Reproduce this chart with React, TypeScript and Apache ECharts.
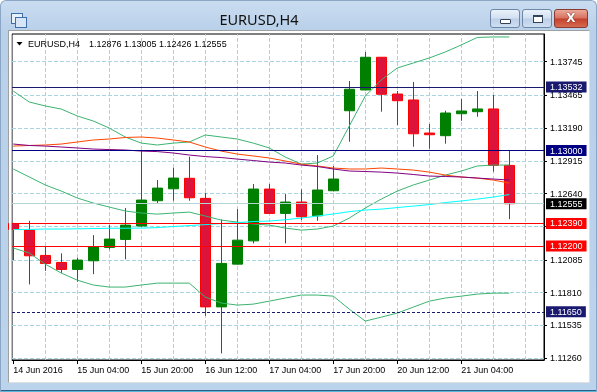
import React, { useEffect, useRef } from 'react';
import * as echarts from 'echarts';

// ---- data ----
const barTimes = ['14 Jun 12:00', '14 Jun 16:00', '14 Jun 20:00', '15 Jun 00:00', '15 Jun 04:00', '15 Jun 08:00', '15 Jun 12:00', '15 Jun 16:00', '15 Jun 20:00', '16 Jun 00:00', '16 Jun 04:00', '16 Jun 08:00', '16 Jun 12:00', '16 Jun 16:00', '16 Jun 20:00', '17 Jun 00:00', '17 Jun 04:00', '17 Jun 08:00', '17 Jun 12:00', '17 Jun 16:00', '17 Jun 20:00', '20 Jun 00:00', '20 Jun 04:00', '20 Jun 08:00', '20 Jun 12:00', '20 Jun 16:00', '20 Jun 20:00', '21 Jun 00:00', '21 Jun 04:00', '21 Jun 08:00', '21 Jun 12:00', '21 Jun 16:00'];

const open = [1.12389, 1.12334, 1.12122, 1.12063, 1.12005, 1.12077, 1.12189, 1.12256, 1.12368, 1.12580, 1.12680, 1.12768, 1.12600, 1.11691, 1.12049, 1.12244, 1.12678, 1.12474, 1.12569, 1.12454, 1.12664, 1.13334, 1.13508, 1.13782, 1.13474, 1.13424, 1.13147, 1.13125, 1.13309, 1.13326, 1.13349, 1.12876];
const high = [1.12395, 1.12412, 1.12194, 1.12139, 1.12102, 1.12292, 1.12376, 1.12519, 1.12999, 1.12753, 1.12856, 1.12949, 1.12647, 1.12424, 1.12510, 1.12720, 1.12720, 1.12636, 1.12675, 1.12963, 1.12871, 1.13583, 1.13826, 1.13782, 1.13499, 1.13575, 1.13223, 1.13334, 1.13432, 1.13499, 1.13466, 1.13005];
const low = [1.12083, 1.11879, 1.11993, 1.11976, 1.11901, 1.11965, 1.12172, 1.12089, 1.12362, 1.12558, 1.12580, 1.12580, 1.11616, 1.11301, 1.12045, 1.12223, 1.12470, 1.12223, 1.12418, 1.12412, 1.12660, 1.13074, 1.13505, 1.13326, 1.13214, 1.13032, 1.13016, 1.13058, 1.13250, 1.13284, 1.12823, 1.12426];
const close = [1.12340, 1.12119, 1.12055, 1.12005, 1.12083, 1.12194, 1.12259, 1.12376, 1.12586, 1.12686, 1.12770, 1.12605, 1.11691, 1.12055, 1.12250, 1.12678, 1.12474, 1.12569, 1.12446, 1.12670, 1.12762, 1.13514, 1.13782, 1.13472, 1.13418, 1.13141, 1.13133, 1.13315, 1.13332, 1.13349, 1.12876, 1.12555];

const bbUpper = [1.13499, 1.13407, 1.13374, 1.13348, 1.13290, 1.13248, 1.13189, 1.13114, 1.13063, 1.13047, 1.13063, 1.13072, 1.13131, 1.13114, 1.13097, 1.13063, 1.13022, 1.12946, 1.12887, 1.12896, 1.12955, 1.13206, 1.13457, 1.13591, 1.13692, 1.13734, 1.13776, 1.13826, 1.13885, 1.13948, 1.13952, 1.13952];
const bbMiddle = [1.12846, 1.12779, 1.12712, 1.12661, 1.12603, 1.12561, 1.12527, 1.12494, 1.12477, 1.12468, 1.12477, 1.12485, 1.12452, 1.12418, 1.12401, 1.12385, 1.12376, 1.12351, 1.12334, 1.12343, 1.12368, 1.12435, 1.12519, 1.12594, 1.12661, 1.12712, 1.12753, 1.12795, 1.12829, 1.12871, 1.12879, 1.12879];
const bbLower = [1.12184, 1.12142, 1.12049, 1.11974, 1.11915, 1.11874, 1.11857, 1.11857, 1.11874, 1.11890, 1.11890, 1.11890, 1.11773, 1.11723, 1.11706, 1.11714, 1.11739, 1.11765, 1.11790, 1.11790, 1.11781, 1.11672, 1.11572, 1.11605, 1.11639, 1.11689, 1.11739, 1.11765, 1.11781, 1.11798, 1.11806, 1.11806];
const maOrange = [1.13038, 1.13043, 1.13047, 1.13055, 1.13072, 1.13089, 1.13097, 1.13110, 1.13114, 1.13105, 1.13089, 1.13072, 1.13030, 1.12996, 1.12971, 1.12955, 1.12938, 1.12913, 1.12887, 1.12871, 1.12854, 1.12846, 1.12846, 1.12854, 1.12846, 1.12837, 1.12820, 1.12795, 1.12779, 1.12770, 1.12753, 1.12728];
const maPurple = [1.13055, 1.13043, 1.13038, 1.13030, 1.13022, 1.13013, 1.13009, 1.13005, 1.12996, 1.12992, 1.12980, 1.12963, 1.12950, 1.12942, 1.12929, 1.12917, 1.12904, 1.12896, 1.12879, 1.12867, 1.12846, 1.12829, 1.12825, 1.12820, 1.12812, 1.12800, 1.12787, 1.12783, 1.12779, 1.12770, 1.12762, 1.12753];
const maCyan = [1.12339, 1.12340, 1.12343, 1.12343, 1.12345, 1.12347, 1.12349, 1.12350, 1.12351, 1.12355, 1.12364, 1.12372, 1.12380, 1.12389, 1.12397, 1.12406, 1.12410, 1.12421, 1.12435, 1.12452, 1.12469, 1.12489, 1.12502, 1.12510, 1.12523, 1.12535, 1.12548, 1.12565, 1.12578, 1.12594, 1.12611, 1.12632];

const yTicks = [1.1126, 1.11535, 1.1181, 1.12085, 1.12365, 1.1264, 1.12915, 1.1319, 1.13465, 1.13745];
const xLabelIdx = [0, 4, 8, 12, 16, 20, 24, 28];
const xLabels = ['14 Jun 2016', '15 Jun 04:00', '15 Jun 20:00', '16 Jun 12:00', '17 Jun 04:00', '17 Jun 20:00', '20 Jun 12:00', '21 Jun 04:00'];
const xGridIdx = [2, 4, 6, 8, 10, 12, 14, 16, 18, 20, 22, 24, 26, 28, 30, 32];

const levels = [1.13532, 1.13, 1.1239, 1.122, 1.1165];
const levelColors = ['#191970', '#000080', '#ff0000', '#ff0000', '#191970'];
const levelDashed = [false, false, false, false, true];
const bid = 1.12555;

const symbolName = 'EURUSD,H4';
const lastOHLC = [1.12876, 1.13005, 1.12426, 1.12555];

const FONT = '"Liberation Sans", Arial, sans-serif';

function lineSeries(name: string, values: number[], color: string, z: number, extra: any = {}) {
  return {
    name,
    type: 'line',
    data: values.map((v, i) => [i, v]),
    symbol: 'none',
    showSymbol: false,
    silent: true,
    clip: true,
    z,
    lineStyle: { color, width: 1 },
    itemStyle: { color },
    ...extra,
  };
}

function buildOption() {
  const levelItems: any[] = levels.map((v, i) => ({
    yAxis: v,
    lineStyle: { color: levelColors[i], width: 1, type: levelDashed[i] ? [3, 2] : 'solid' },
    label: {
      show: true,
      position: 'end',
      distance: 2,
      formatter: v.toFixed(5),
      color: '#ffffff',
      backgroundColor: levelColors[i],
      padding: [1, 4, 0, 4],
      lineHeight: 10,
      fontSize: 9,
      fontFamily: FONT,
    },
  }));
  levelItems.unshift({
    yAxis: bid,
    lineStyle: { color: '#b4d4d4', width: 1, type: 'solid' },
    label: {
      show: true,
      position: 'end',
      distance: 2,
      formatter: bid.toFixed(5),
      color: '#ffffff',
      backgroundColor: '#000000',
      padding: [1, 4, 0, 4],
      lineHeight: 10,
      fontSize: 9,
      fontFamily: FONT,
    },
  });

  const gridItems: any[] = [
    ...yTicks.map((v) => ({ yAxis: v })),
    ...xGridIdx.map((v) => ({ xAxis: v })),
  ];

  return {
    animation: false,
    grid: {
      left: 12, top: 34, width: 532, height: 326,
      show: true, borderColor: '#000', borderWidth: 1, backgroundColor: 'transparent',
      containLabel: false, outerBoundsMode: 'none',
    },
    xAxis: {
      type: 'value', min: -0.08, max: 33.17,
      axisLine: { show: true, onZero: false, lineStyle: { color: '#000', width: 1 } },
      axisTick: { show: true, customValues: xLabelIdx, length: 4, lineStyle: { color: '#000' } },
      axisLabel: {
        customValues: xLabelIdx,
        formatter: (v: number) => xLabels[xLabelIdx.indexOf(Math.round(v))] || '',
        align: 'left', margin: 5, color: '#000', fontSize: 9, fontFamily: FONT,
      },
      splitLine: { show: false },
    },
    yAxis: {
      type: 'value', position: 'right', min: 1.11246, max: 1.139768, scale: true,
      axisLine: { show: true, onZero: false, lineStyle: { color: '#000', width: 1 } },
      axisTick: { show: true, customValues: yTicks, length: 3, lineStyle: { color: '#000' } },
      axisLabel: {
        customValues: yTicks,
        formatter: (v: number) => v.toFixed(5),
        margin: 6, color: '#000', fontSize: 9, fontFamily: FONT,
      },
      splitLine: { show: false },
    },
    graphic: [
      // white margin left of the plot frame (hides the part of the first candle that lies outside)
      { type: 'rect', silent: true, shape: { x: 9, y: 31, width: 2.5, height: 340 }, style: { fill: '#ffffff' }, z: 50 },
      { type: 'polygon', silent: true, shape: { points: [[16.5, 42], [22.5, 42], [19.5, 45.5]] }, style: { fill: '#000' }, z: 10 },
      { type: 'text', silent: true, x: 28, y: 44, style: { text: symbolName, fill: '#000', font: `9px ${FONT}`, verticalAlign: 'middle', align: 'left' }, z: 10 },
      { type: 'text', silent: true, x: 89, y: 44, style: { text: lastOHLC.map((v) => v.toFixed(5)).join(' '), fill: '#000', font: `9px ${FONT}`, verticalAlign: 'middle', align: 'left' }, z: 10 },
    ],
    series: [
      {
        name: 'grid',
        type: 'line',
        data: close.map((v, i) => [i, v]),
        symbol: 'none',
        showSymbol: false,
        silent: true,
        z: 1,
        lineStyle: { opacity: 0, width: 0 },
        itemStyle: { opacity: 0 },
        markLine: {
          silent: true, z: 1, precision: 5, symbol: ['none', 'none'],
          label: { show: false },
          lineStyle: { color: '#a9d5e0', width: 1, type: 'dashed', dashOffset: 0 },
          data: gridItems,
        },
      },
      {
        name: 'EURUSD',
        type: 'candlestick',
        data: open.map((o, i) => [i, o, close[i], low[i], high[i]]),
        encode: { x: 0, y: [1, 2, 3, 4] },
        barWidth: 10,
        clip: true,
        z: 2,
        silent: true,
        itemStyle: { color: '#008000', color0: '#dc143c', borderColor: '#008000', borderColor0: '#ff0000', borderWidth: 1 },
      },
      lineSeries('BB upper', bbUpper, '#3cb371', 3),
      lineSeries('BB middle', bbMiddle, '#3cb371', 3),
      lineSeries('BB lower', bbLower, '#3cb371', 3),
      lineSeries('MA orange', maOrange, '#ff4500', 3),
      lineSeries('MA purple', maPurple, '#800080', 3),
      lineSeries('MA cyan', maCyan, '#00ffff', 3, {
        markLine: {
          silent: true, z: 5, precision: 5, symbol: ['none', 'none'],
          data: levelItems,
        },
      }),
    ],
  };
}

export default function App() {
  const ref = useRef<HTMLDivElement>(null);
  useEffect(() => {
    if (!ref.current) return;
    const chart = echarts.init(ref.current, null, { renderer: 'svg' });
    chart.setOption(buildOption() as any);
    return () => chart.dispose();
  }, []);

  const btnBase: React.CSSProperties = {
    position: 'absolute', top: 8, height: 19, boxSizing: 'border-box',
    border: '1px solid #6f87a6', borderRadius: 3,
  };

  return (
    <div style={{
      position: 'fixed', left: 0, top: 0, width: 597, height: 392, overflow: 'hidden',
      background: 'linear-gradient(to bottom, #cadcf0 0px, #b9d0ea 30px, #bcd3ec 100%)',
      boxSizing: 'border-box', borderLeft: '1px solid #8ba6c4', borderTop: '1px solid #8ba6c4',
      borderRight: '1px solid #8ba6c4', borderRadius: '6px 6px 0 0',
    }}>
      {/* window icon */}
      <div style={{ position: 'absolute', left: 10, top: 12, width: 10, height: 9, border: '1px solid #3d6fa8', background: '#e8f1fb' }} />
      <div style={{ position: 'absolute', left: 14, top: 16, width: 10, height: 9, border: '1px solid #3d6fa8', background: '#d6e6f7' }} />
      {/* title */}
      <div style={{
        position: 'absolute', left: 200, top: 8, width: 116, textAlign: 'center',
        fontFamily: '"Noto Sans", "Open Sans", sans-serif', fontSize: 14.5, lineHeight: '20px', color: '#111',
      }}>EURUSD,H4</div>
      {/* buttons */}
      <div style={{ ...btnBase, left: 489, width: 30, background: 'linear-gradient(to bottom, #eaf1fa 0%, #d2e0f1 48%, #bccfe8 52%, #cfdff2 100%)' }}>
        <div style={{ position: 'absolute', left: 9, top: 9, width: 9, height: 3, border: '1px solid #34435a', background: '#fff', borderRadius: 1 }} />
      </div>
      <div style={{ ...btnBase, left: 521, width: 30, background: 'linear-gradient(to bottom, #eaf1fa 0%, #d2e0f1 48%, #bccfe8 52%, #cfdff2 100%)' }}>
        <div style={{ position: 'absolute', left: 10, top: 5, width: 8, height: 5, border: '1px solid #34435a', borderTopWidth: 2, background: '#fff', boxSizing: 'content-box' }} />
      </div>
      <div style={{ ...btnBase, left: 553, width: 34, border: '1px solid #8a3a30', background: 'linear-gradient(to bottom, #e9a99a 0%, #d8705e 48%, #c2412c 52%, #d66a4f 100%)' }}>
        <div style={{
          position: 'absolute', left: 0, top: 0, width: 32, textAlign: 'center', color: '#fff',
          fontFamily: '"DejaVu Sans", sans-serif', fontWeight: 'bold', fontSize: 12, lineHeight: '17px',
          textShadow: '0 0 1px #5a1c14, 0 0 1px #5a1c14',
        }}>X</div>
      </div>
      {/* client area */}
      <div style={{
        position: 'absolute', left: 7, top: 29, width: 582, height: 353, background: '#fff', boxSizing: 'border-box',
        borderLeft: '1px solid #a0a0a0', borderTop: '1px solid #a0a0a0', borderRight: '1px solid #e0e0e0', borderBottom: '1px solid #e0e0e0',
      }} />
      {/* bottom strip */}
      <div style={{ position: 'absolute', left: -1, top: 389, width: 597, height: 1, background: '#2a5f86' }} />
      <div style={{ position: 'absolute', left: -1, top: 390, width: 597, height: 2, background: '#5bb6dc' }} />
      {/* chart */}
      <div ref={ref} style={{ position: 'absolute', left: -1, top: -1, width: 597, height: 392 }} />
    </div>
  );
}
